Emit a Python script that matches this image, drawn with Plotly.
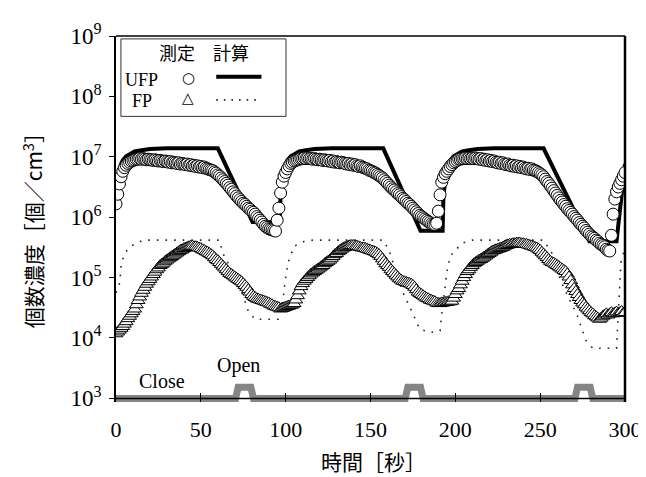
import plotly.graph_objects as go

# ---------------- data ----------------
time_s = list(range(0, 301))

# measured UFP concentration, log10 [個/cm3], one value per second
ufp_meas_log10 = [
    6.22, 6.38, 6.55, 6.67, 6.76, 6.82, 6.86, 6.89, 6.91, 6.93,
    6.94, 6.95, 6.96, 6.96, 6.97, 6.96, 6.97, 6.96, 6.95, 6.96,
    6.95, 6.95, 6.94, 6.95, 6.94, 6.93, 6.94, 6.93, 6.92, 6.93,
    6.92, 6.91, 6.92, 6.90, 6.91, 6.90, 6.89, 6.90, 6.88, 6.89,
    6.88, 6.87, 6.88, 6.86, 6.87, 6.85, 6.86, 6.84, 6.85, 6.83,
    6.84, 6.82, 6.83, 6.81, 6.80, 6.79, 6.78, 6.77, 6.75, 6.73,
    6.70, 6.68, 6.65, 6.62, 6.59, 6.56, 6.53, 6.49, 6.46, 6.42,
    6.39, 6.35, 6.32, 6.29, 6.26, 6.23, 6.21, 6.18, 6.15, 6.13,
    6.10, 6.08, 6.05, 6.01, 5.98, 5.95, 5.92, 5.88, 5.85, 5.83,
    5.81, 5.80, 5.79, 5.78, 5.77, 5.95, 6.15, 6.40, 6.58, 6.68,
    6.74, 6.80, 6.85, 6.89, 6.91, 6.93, 6.94, 6.95, 6.96, 6.97,
    6.97, 6.98, 6.97, 6.98, 6.97, 6.97, 6.96, 6.97, 6.96, 6.95,
    6.96, 6.95, 6.94, 6.95, 6.94, 6.93, 6.94, 6.92, 6.93, 6.91,
    6.92, 6.91, 6.90, 6.91, 6.90, 6.89, 6.88, 6.89, 6.87, 6.88,
    6.86, 6.87, 6.85, 6.84, 6.85, 6.83, 6.82, 6.81, 6.80, 6.78,
    6.77, 6.76, 6.74, 6.73, 6.71, 6.69, 6.67, 6.65, 6.62, 6.59,
    6.56, 6.53, 6.50, 6.47, 6.45, 6.42, 6.39, 6.37, 6.34, 6.31,
    6.29, 6.26, 6.23, 6.21, 6.18, 6.15, 6.12, 6.09, 6.06, 6.03,
    6.01, 5.99, 5.97, 5.95, 5.93, 5.91, 5.89, 5.88, 5.88, 5.90,
    6.10, 6.37, 6.58, 6.66, 6.72, 6.76, 6.80, 6.84, 6.87, 6.90,
    6.92, 6.94, 6.96, 6.96, 6.97, 6.97, 6.98, 6.97, 6.98, 6.97,
    6.98, 6.97, 6.98, 6.97, 6.96, 6.97, 6.95, 6.96, 6.94, 6.95,
    6.93, 6.94, 6.92, 6.93, 6.91, 6.90, 6.91, 6.89, 6.90, 6.88,
    6.87, 6.88, 6.86, 6.85, 6.86, 6.84, 6.85, 6.83, 6.84, 6.82,
    6.83, 6.81, 6.80, 6.81, 6.79, 6.80, 6.78, 6.77, 6.76, 6.74,
    6.72, 6.70, 6.67, 6.63, 6.59, 6.56, 6.52, 6.48, 6.44, 6.40,
    6.36, 6.32, 6.28, 6.25, 6.21, 6.18, 6.14, 6.11, 6.08, 6.05,
    6.01, 5.98, 5.95, 5.91, 5.88, 5.85, 5.82, 5.78, 5.75, 5.72,
    5.69, 5.67, 5.65, 5.62, 5.60, 5.57, 5.55, 5.53, 5.51, 5.47,
    5.45, 5.44, 5.70, 6.05, 6.30, 6.42, 6.50, 6.56, 6.62, 6.68, 6.74,
]

# measured FP concentration, log10 [個/cm3], one value per second
fp_meas_log10 = [
    4.07, 4.10, 4.13, 4.16, 4.19, 4.23, 4.27, 4.32, 4.36, 4.40,
    4.44, 4.48, 4.55, 4.62, 4.68, 4.74, 4.79, 4.84, 4.89, 4.93,
    4.97, 5.01, 5.05, 5.09, 5.13, 5.16, 5.20, 5.22, 5.24, 5.27,
    5.29, 5.31, 5.33, 5.35, 5.37, 5.39, 5.41, 5.43, 5.45, 5.46,
    5.48, 5.49, 5.50, 5.51, 5.52, 5.52, 5.51, 5.51, 5.50, 5.49,
    5.48, 5.46, 5.45, 5.43, 5.42, 5.40, 5.38, 5.36, 5.33, 5.30,
    5.28, 5.25, 5.22, 5.19, 5.16, 5.13, 5.10, 5.07, 5.05, 5.03,
    5.01, 4.99, 4.97, 4.95, 4.93, 4.90, 4.87, 4.84, 4.80, 4.76,
    4.72, 4.69, 4.67, 4.65, 4.64, 4.63, 4.62, 4.61, 4.60, 4.59,
    4.58, 4.56, 4.55, 4.53, 4.52, 4.51, 4.50, 4.48, 4.49, 4.50,
    4.51, 4.52, 4.53, 4.54, 4.55, 4.57, 4.63, 4.70, 4.78, 4.85,
    4.90, 4.94, 4.97, 5.00, 5.03, 5.06, 5.08, 5.10, 5.12, 5.14,
    5.16, 5.18, 5.20, 5.23, 5.25, 5.27, 5.29, 5.32, 5.35, 5.38,
    5.40, 5.43, 5.45, 5.47, 5.49, 5.50, 5.51, 5.52, 5.53, 5.53,
    5.53, 5.52, 5.52, 5.51, 5.50, 5.49, 5.49, 5.48, 5.47, 5.46,
    5.45, 5.44, 5.43, 5.42, 5.40, 5.38, 5.35, 5.31, 5.27, 5.23,
    5.20, 5.17, 5.13, 5.10, 5.07, 5.04, 5.01, 4.98, 4.96, 4.94,
    4.93, 4.92, 4.91, 4.90, 4.89, 4.87, 4.84, 4.80, 4.76, 4.74,
    4.72, 4.70, 4.68, 4.66, 4.65, 4.63, 4.62, 4.61, 4.60, 4.58,
    4.57, 4.57, 4.58, 4.58, 4.59, 4.59, 4.60, 4.60, 4.61, 4.66,
    4.72, 4.78, 4.82, 4.88, 4.94, 5.00, 5.05, 5.10, 5.13, 5.17,
    5.20, 5.23, 5.25, 5.27, 5.29, 5.30, 5.32, 5.34, 5.36, 5.38,
    5.40, 5.42, 5.44, 5.45, 5.46, 5.47, 5.48, 5.49, 5.50, 5.52,
    5.53, 5.54, 5.55, 5.55, 5.56, 5.56, 5.57, 5.57, 5.57, 5.56,
    5.56, 5.55, 5.55, 5.54, 5.53, 5.52, 5.51, 5.50, 5.49, 5.47,
    5.45, 5.42, 5.39, 5.36, 5.33, 5.30, 5.27, 5.25, 5.24, 5.22,
    5.20, 5.18, 5.16, 5.14, 5.12, 5.10, 5.06, 5.01, 4.95, 4.88,
    4.82, 4.77, 4.72, 4.67, 4.62, 4.58, 4.55, 4.51, 4.48, 4.45,
    4.42, 4.40, 4.37, 4.35, 4.33, 4.31, 4.33, 4.36, 4.38, 4.40,
    4.38, 4.40, 4.42, 4.40, 4.41, 4.43, 4.41, 4.42, 4.44, 4.41, 4.42,
]

# calculated UFP (solid line), knots (time, log10)
ufp_calc_t = [0, 1, 2, 3, 4, 6, 8, 11, 15, 20, 30, 60, 80.5, 96.5,
              97, 98, 99, 100, 101, 103, 105, 108, 112, 117, 127, 157.5, 179.5, 192.5,
              193, 194, 195, 196, 197, 199, 201, 204, 208, 213, 223, 252, 279, 295, 300]
ufp_calc_log10 = [6.37, 6.62, 6.78, 6.88, 6.94, 7.01, 7.05, 7.09, 7.11, 7.13, 7.14, 7.14, 5.92, 5.92,
                  6.37, 6.62, 6.78, 6.88, 6.94, 7.01, 7.05, 7.09, 7.11, 7.13, 7.14, 7.14, 5.775, 5.775,
                  6.37, 6.62, 6.78, 6.88, 6.94, 7.01, 7.05, 7.09, 7.11, 7.13, 7.14, 7.14, 5.60, 5.60, 6.88]

# calculated FP (dotted line), knots (time, log10)
fp_calc_t = [0, 2.3, 3, 5, 8.7, 14.5, 18.5, 61, 63, 69, 74.5, 78, 82, 95.5,
             98.5, 99.6, 101.4, 105, 111, 116, 157.5, 161, 165, 169, 175, 179, 185, 191,
             192, 193.5, 195, 197, 204, 210, 252, 257, 262, 267, 271.5, 277, 281, 295,
             295.5, 296.5, 297.6, 300]
fp_calc_log10 = [4.75, 4.92, 5.20, 5.40, 5.52, 5.60, 5.62, 5.62, 5.40, 5.09, 4.73, 4.44, 4.31, 4.31,
                 4.65, 4.92, 5.25, 5.52, 5.60, 5.62, 5.62, 5.45, 5.10, 4.76, 4.40, 4.15, 4.09, 4.12,
                 4.40, 4.76, 5.09, 5.36, 5.57, 5.62, 5.62, 5.40, 4.95, 4.65, 4.40, 3.96, 3.83, 3.83,
                 4.12, 4.81, 5.25, 5.50]

# window state (Close / Open) drawn along the bottom
window_t = [0, 70.5, 72, 79.5, 81, 170.5, 172, 179.5, 181, 270.5, 272, 279.5, 281, 300]
window_val = [1000, 1000, 1530, 1530, 1000, 1000, 1530, 1530, 1000, 1000, 1530, 1530, 1000, 1000]

x_ticks = [0, 50, 100, 150, 200, 250, 300]
y_ticks = [1e3, 1e4, 1e5, 1e6, 1e7, 1e8, 1e9]
y_ticktext = ["10<sup>3</sup>", "10<sup>4</sup>", "10<sup>5</sup>", "10<sup>6</sup>",
              "10<sup>7</sup>", "10<sup>8</sup>", "10<sup>9</sup>"]

ufp_meas = [10 ** v for v in ufp_meas_log10]
fp_meas = [10 ** v for v in fp_meas_log10]
ufp_calc = [10 ** v for v in ufp_calc_log10]
fp_calc = [10 ** v for v in fp_calc_log10]

SERIF = "Liberation Serif, Times New Roman, serif"
CJK = "Noto Sans CJK JP, sans-serif"

fig = go.Figure()
fig.add_trace(go.Scatter(x=window_t, y=window_val, mode="lines",
                         line=dict(color="#858585", width=7), showlegend=False, hoverinfo="skip"))
fig.add_trace(go.Scatter(x=fp_calc_t, y=fp_calc, mode="lines",
                         line=dict(color="#222222", width=1.6, dash="1.6px,7px"),
                         showlegend=False))
fig.add_trace(go.Scatter(x=ufp_calc_t, y=ufp_calc, mode="lines",
                         line=dict(color="black", width=4), showlegend=False))
fig.add_trace(go.Scatter(x=time_s, y=fp_meas, mode="markers",
                         marker=dict(symbol="triangle-up", size=12, color="white",
                                     line=dict(color="black", width=1)),
                         showlegend=False))
fig.add_trace(go.Scatter(x=time_s, y=ufp_meas, mode="markers",
                         marker=dict(symbol="circle", size=12, color="white",
                                     line=dict(color="black", width=1)),
                         showlegend=False))

# plot-area geometry helpers (pixel -> paper)
L, R, T, B = 108, 626, 16, 394
def px(xp):
    return (xp - L) / (R - L)
def py(yp):
    return (B - yp) / (B - T)

shapes = [
    # bottom axis line at 10^3, top frame line and heavier right frame line
    dict(type="line", xref="paper", yref="y", x0=0, x1=1, y0=1000, y1=1000,
         line=dict(color="black", width=1.5), layer="above"),
    dict(type="line", xref="paper", yref="paper", x0=0, x1=1, y0=1, y1=1,
         line=dict(color="black", width=1.5), layer="above"),
    dict(type="line", xref="paper", yref="paper", x0=1, x1=1, y0=0, y1=1,
         line=dict(color="black", width=2.5), layer="above"),
    # legend box
    dict(type="rect", xref="paper", yref="paper", x0=px(113), x1=px(281), y0=py(99), y1=py(19),
         line=dict(color="#333333", width=1), fillcolor="white", layer="above"),
    dict(type="line", xref="paper", yref="paper", x0=px(210), x1=px(256), y0=py(58), y1=py(58),
         line=dict(color="black", width=4), layer="above"),
    dict(type="line", xref="paper", yref="paper", x0=px(210), x1=px(256), y0=py(82), y1=py(82),
         line=dict(color="#222222", width=1.6, dash="1.6px,6px"), layer="above"),
]

annotations = [
    dict(text="測定", x=px(170), y=py(33), font=dict(family=CJK, size=18, color="black")),
    dict(text="計算", x=px(225), y=py(33), font=dict(family=CJK, size=18, color="black")),
    dict(text="UFP", x=px(134), y=py(61), font=dict(family=SERIF, size=18, color="black")),
    dict(text="FP", x=px(134), y=py(83), font=dict(family=SERIF, size=18, color="black")),
    dict(text="○", x=px(182), y=py(59), font=dict(family="DejaVu Sans", size=15, color="black")),
    dict(text="△", x=px(181), y=py(80), font=dict(family="DejaVu Sans", size=15, color="black")),
    dict(text="時間［秒］", x=px(370), y=py(455), font=dict(family=CJK, size=21, color="black")),
    dict(text="個数濃度［個／cm<sup>3</sup>］", x=px(23), y=py(211), textangle=-90,
         font=dict(family=CJK, size=21, color="black")),
]
for a in annotations:
    a.update(xref="paper", yref="paper", showarrow=False, xanchor="center", yanchor="middle")

# Close / Open labels in data coordinates (log axis -> log10 value for y)
annotations.append(dict(text="Close", x=27, y=3.29, xref="x", yref="y", showarrow=False,
                        font=dict(family=SERIF, size=20, color="black")))
annotations.append(dict(text="Open", x=72, y=3.55, xref="x", yref="y", showarrow=False,
                        font=dict(family=SERIF, size=20, color="black")))

fig.update_layout(
    width=646, height=477,
    margin=dict(l=L, r=646 - R, t=T, b=477 - B),
    paper_bgcolor="white", plot_bgcolor="white",
    shapes=shapes, annotations=annotations,
    showlegend=False,
)
fig.update_xaxes(range=[0, 300], tickvals=x_ticks, showgrid=False, zeroline=False,
                 showline=False, ticks="inside", ticklen=9, tickcolor="black", tickwidth=1,
                 tickfont=dict(family=SERIF, size=22, color="black"), ticklabelstandoff=12)
fig.update_yaxes(type="log", range=[2.94, 9], tickvals=y_ticks, ticktext=y_ticktext,
                 showgrid=False, zeroline=False, showline=True, mirror=False,
                 linecolor="black", linewidth=1.5, ticks="outside", ticklen=5,
                 tickcolor="black", ticklabelstandoff=3,
                 tickfont=dict(family=SERIF, size=23, color="black"))

fig.write_html("out.html")
